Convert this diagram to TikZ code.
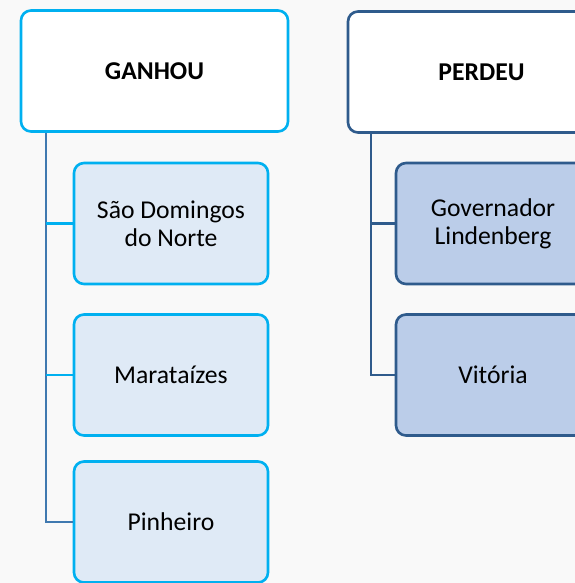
\documentclass[tikz,border=0pt]{standalone}
\usepackage{fontspec}
\setmainfont{Carlito}
\definecolor{ciano}{HTML}{00B0F0}
\definecolor{azulesc}{HTML}{2F5B8C}
\definecolor{tronco}{HTML}{4079B0}
\definecolor{claro}{HTML}{DFEAF6}
\definecolor{medio}{HTML}{BBCDE9}
\definecolor{fundo}{HTML}{F9F9F9}
\tikzset{
  topo/.style={draw, rounded corners=0.2cm, line width=1.5pt, fill=white,
    minimum width=5.34cm, minimum height=2.42cm},
  filho/.style={draw, rounded corners=0.2cm, line width=1.5pt,
    minimum width=3.88cm, minimum height=2.42cm, align=center},
  liga/.style={line width=1.3pt}
}
\begin{document}
\begin{tikzpicture}[every node/.append style={font=\fontsize{14.6}{16}\selectfont}]
        \useasboundingbox (0,0) rectangle (11.5,-11.66);
        \clip (0,0) rectangle (11.5,-11.66);
        \fill[fundo] (0,0) rectangle (11.5,-11.66);

        \node[topo, draw=ciano] (g) at (3.09,-1.42) {\bfseries GANHOU};
        \node[topo, draw=azulesc] (p) at (9.63,-1.44) {\bfseries PERDEU};

        \node[filho, draw=ciano, fill=claro] (g1) at (3.42,-4.47) {São Domingos\\do Norte};
        \node[filho, draw=ciano, fill=claro] (g2) at (3.42,-7.50) {Marataízes};
        \node[filho, draw=ciano, fill=claro] (g3) at (3.42,-10.44) {Pinheiro};

        \node[filho, draw=azulesc, fill=medio] (p1) at (9.86,-4.47) {Governador\\Lindenberg};
        \node[filho, draw=azulesc, fill=medio] (p2) at (9.86,-7.50) {Vitória};

        \coordinate (gt) at ([xshift=0.52cm]g.south west);
        \coordinate (pt) at ([xshift=0.48cm]p.south west);

        \draw[liga, tronco] (gt) |- (g3.west);
        \draw[liga, ciano] (gt |- g1.west) -- (g1.west);
        \draw[liga, ciano] (gt |- g2.west) -- (g2.west);
        \draw[liga, azulesc] (pt) |- (p2.west);
        \draw[liga, azulesc] (pt |- p1.west) -- (p1.west);
      \end{tikzpicture}
\end{document}
